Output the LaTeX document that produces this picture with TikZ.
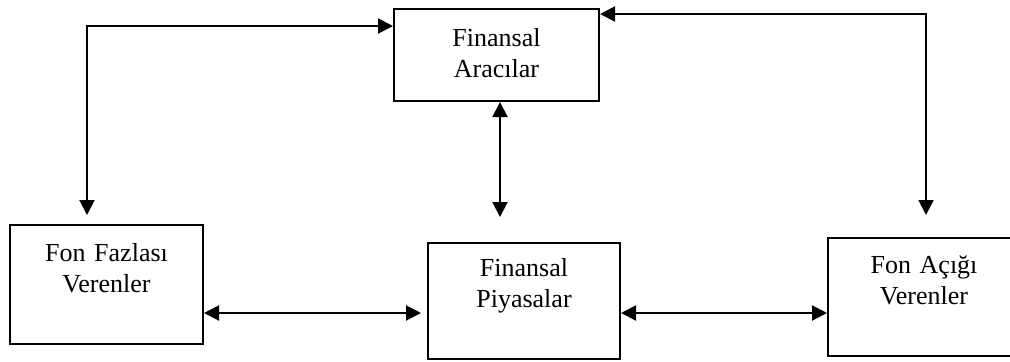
\documentclass[tikz,border=0pt]{standalone}
\usepackage{fontspec}
\setmainfont{Liberation Serif}
\usetikzlibrary{positioning, arrows.meta, calc}
\tikzset{
  kutu/.style={draw, line width=1pt, inner sep=0pt, align=center, anchor=north west, font=\fontsize{13}{15.5}\selectfont},
  akis/.style={{Triangle[length=7.5pt, width=7.5pt]}-{Triangle[length=7.5pt, width=7.5pt]}, line width=1pt},
}
\begin{document}
\begin{tikzpicture}[x=0.5pt, y=-0.5pt]
  \useasboundingbox (0,0) rectangle (1010,361);
  \node[kutu, text width=102.5pt, text height=18.5pt, text depth=27.5pt] (arac) at (393,8) {Finansal\\Aracılar};
  \node[kutu, text width=96.5pt, text height=18pt, text depth=41.5pt] (fazla) at (9,224) {Fon Fazlası\\Verenler};
  \node[kutu, text width=96pt, text height=16.5pt, text depth=41.5pt] (piya) at (427,242) {Finansal\\Piyasalar};
  \node[kutu, text width=96pt, text height=17.5pt, text depth=41.5pt] (acik) at (827,237) {Fon Açığı\\Verenler};
  \coordinate (solust) at (87,26);
  \coordinate (sagust) at (926,14);
  \coordinate (orta) at (500,0);
  \coordinate (yatay) at (0,313);
  \draw[akis, shorten <=4.5pt] (fazla.north -| solust) -- (solust) -- (solust -| arac.west);
  \draw[akis, shorten >=11pt] (sagust -| arac.east) -- (sagust) -- (sagust |- acik.north);
  \draw[akis, shorten >=12.5pt] (arac.south -| orta) -- (orta |- piya.north);
  \draw[akis, shorten >=3pt] (fazla.east |- yatay) -- (piya.west |- yatay);
  \draw[akis] (piya.east |- yatay) -- (acik.west |- yatay);
\end{tikzpicture}
\end{document}
